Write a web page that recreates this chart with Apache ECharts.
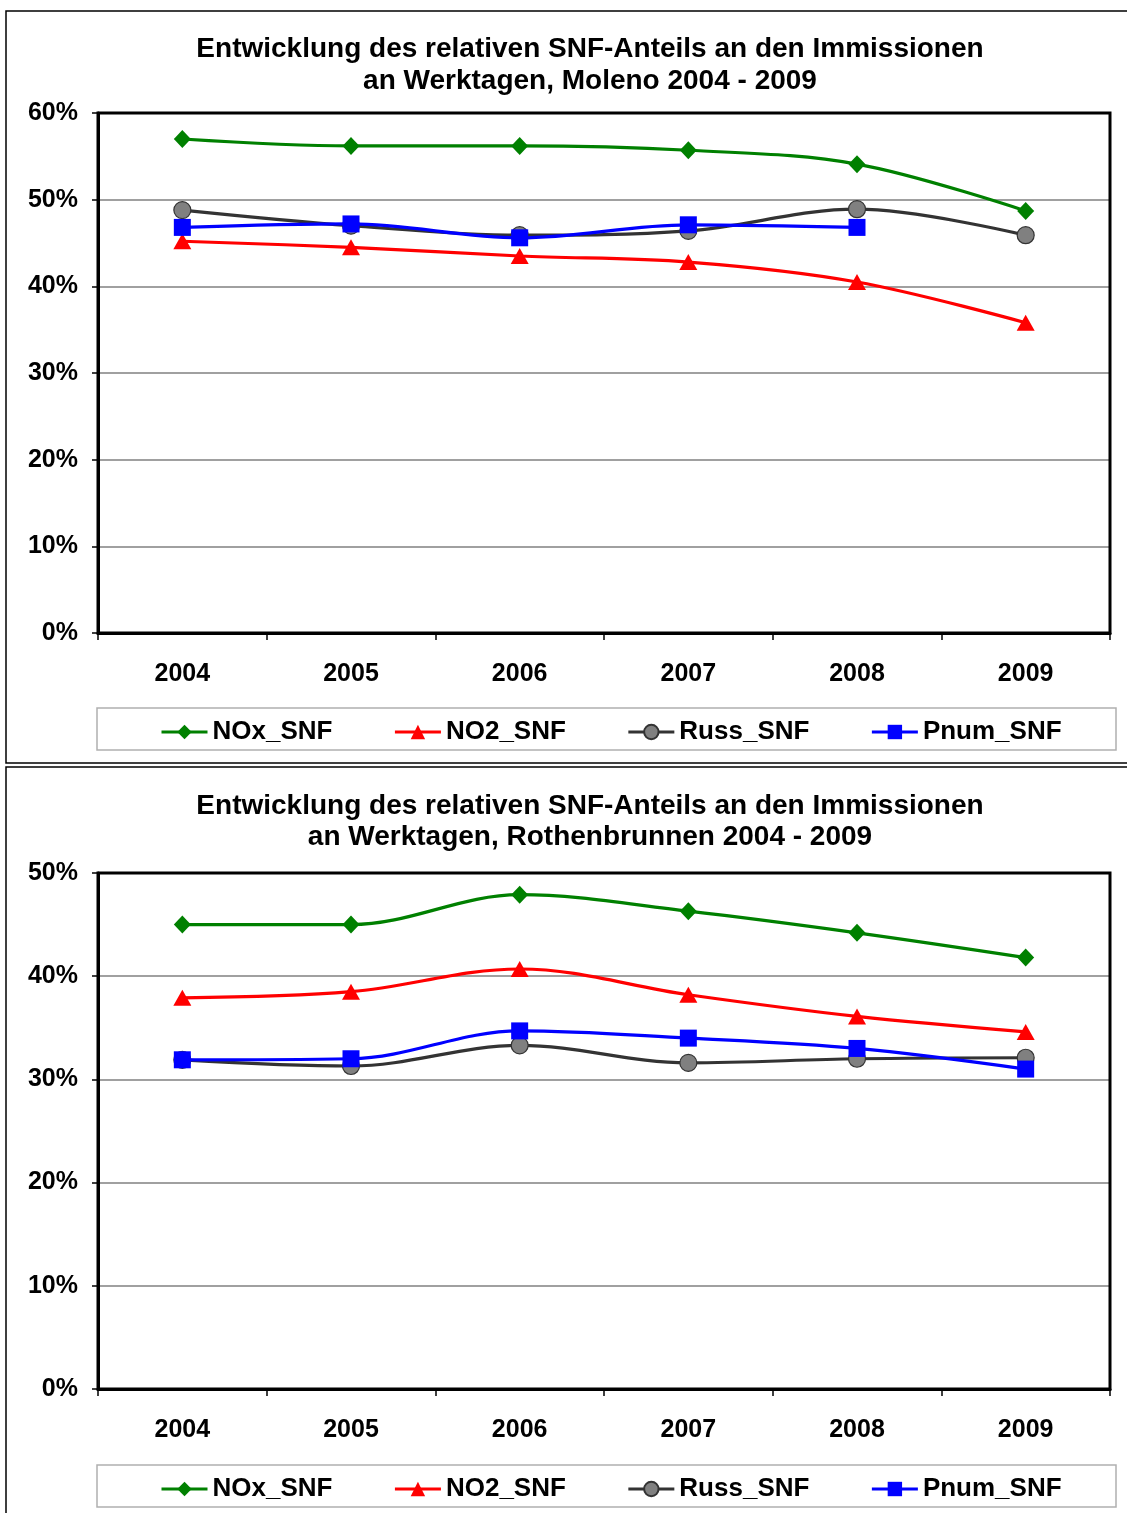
<!DOCTYPE html>
<html>
<head>
<meta charset="utf-8">
<script src="https://cdn.jsdelivr.net/npm/echarts@6/dist/echarts.min.js"></script>
<style>
html,body{margin:0;padding:0;background:#fff;}
#c{width:1127px;height:1513px;}
</style>
</head>
<body>
<div id="c"></div>
<script>
const years = ['2004','2005','2006','2007','2008','2009'];
const seriesNames = ['NOx_SNF','NO2_SNF','Russ_SNF','Pnum_SNF'];
const titleMoleno = 'Entwicklung des relativen SNF-Anteils an den Immissionen\nan Werktagen, Moleno 2004 - 2009';
const titleRothen = 'Entwicklung des relativen SNF-Anteils an den Immissionen\nan Werktagen, Rothenbrunnen 2004 - 2009';
// Moleno (%)
const molenoNOx  = [57.0, 56.2, 56.2, 55.7, 54.1, 48.7];
const molenoNO2  = [45.2, 44.5, 43.5, 42.8, 40.5, 35.8];
const molenoRuss = [48.8, 47.0, 45.9, 46.4, 48.9, 45.9];
const molenoPnum = [46.8, 47.2, 45.6, 47.1, 46.8, null];
const molenoTicks = [0, 10, 20, 30, 40, 50, 60];
// Rothenbrunnen (%)
const rothNOx  = [45.0, 45.0, 47.9, 46.3, 44.2, 41.8];
const rothNO2  = [37.9, 38.5, 40.7, 38.2, 36.1, 34.6];
const rothRuss = [31.9, 31.3, 33.3, 31.6, 32.0, 32.1];
const rothPnum = [31.9, 32.0, 34.7, 34.0, 33.0, 31.0];
const rothTicks = [0, 10, 20, 30, 40, 50];

const FONT = '"Liberation Sans", Arial, sans-serif';
const styles = [
  {line:'#008000', fill:'#008000', border:'#008000', symbol:'diamond', size:[17,18]},
  {line:'#FF0000', fill:'#FF0000', border:'#FF0000', symbol:'triangle', size:[18,16]},
  {line:'#333333', fill:'#808080', border:'#333333', symbol:'circle', size:[17,17]},
  {line:'#0000FF', fill:'#0000FF', border:'#0000FF', symbol:'rect', size:[17,17]}
];

function mkSeries(dataArr, idx){
  return dataArr.map((d,i)=>({
    name: seriesNames[i], type:'line', xAxisIndex: idx, yAxisIndex: idx,
    data: d, smooth: 0.35, connectNulls:false,
    symbol: styles[i].symbol, symbolSize: styles[i].size, showSymbol:true,
    lineStyle:{color:styles[i].line, width:3.2},
    itemStyle:{color:styles[i].fill, borderColor:styles[i].border, borderWidth: i===2?1.2:0, opacity:1},
    z: 10 + i, animation:false
  }));
}

const axisX = (idx)=>({
  type:'category', gridIndex: idx, data: years, boundaryGap:true,
  axisLine:{show:true, lineStyle:{color:'#000', width:3}},
  axisTick:{show:true, inside:false, length:7, lineStyle:{color:'#000', width:1.5}},
  axisLabel:{color:'#000', fontFamily:FONT, fontWeight:'bold', fontSize:25, margin:29},
  splitLine:{show:false}
});
const axisY = (idx, ticks)=>({
  type:'value', gridIndex: idx, min: ticks[0], max: ticks[ticks.length-1], interval: ticks[1]-ticks[0],
  axisLine:{show:true, lineStyle:{color:'#000', width:3}},
  axisTick:{show:true, inside:false, length:6, lineStyle:{color:'#000', width:1.5}},
  axisLabel:{color:'#000', fontFamily:FONT, fontWeight:'bold', fontSize:25, margin:20, formatter:'{value}%'},
  splitLine:{show:true, lineStyle:{color:'#808080', width:1.5}}
});
const legendOf = (top)=>({
  top: top, left: 155, orient:'horizontal', itemGap: 61, itemWidth: 46, itemHeight: 18,
  data: seriesNames,
  lineStyle:{width:3},
  textStyle:{color:'#000', fontFamily:FONT, fontWeight:'bold', fontSize:26}
});

const chart = echarts.init(document.getElementById('c'), null, {renderer:'canvas'});
chart.setOption({
  animation:false,
  backgroundColor:'#fff',
  title:[
    {text: titleMoleno, left: 585, top: 28, textAlign:'center',
     textStyle:{fontFamily:FONT, fontWeight:'bold', fontSize:28, lineHeight:32, color:'#000'}},
    {text: titleRothen, left: 585, top: 786, textAlign:'center',
     textStyle:{fontFamily:FONT, fontWeight:'bold', fontSize:28, lineHeight:31, color:'#000'}}
  ],
  graphic:[
    {type:'rect', shape:{x:6, y:11, width:1130, height:752}, style:{fill:'none', stroke:'#000', lineWidth:1.5}, z:-1},
    {type:'rect', shape:{x:6, y:767, width:1130, height:760}, style:{fill:'none', stroke:'#000', lineWidth:1.5}, z:-1},
    {type:'rect', shape:{x:97, y:708, width:1019, height:42}, style:{fill:'#fff', stroke:'#b0b0b0', lineWidth:1.5}, z:-1},
    {type:'rect', shape:{x:97, y:1465, width:1019, height:42}, style:{fill:'#fff', stroke:'#b0b0b0', lineWidth:1.5}, z:-1},
    {type:'rect', shape:{x:98, y:113, width:1012, height:520}, style:{fill:'none', stroke:'#000', lineWidth:3}, z:50},
    {type:'rect', shape:{x:98, y:873, width:1012, height:516}, style:{fill:'none', stroke:'#000', lineWidth:3}, z:50}
  ],
  legend:[legendOf(714), legendOf(1471)],
  grid:[
    {left:98, right:17, top:113, height:520, containLabel:false},
    {left:98, right:17, top:873, height:516, containLabel:false}
  ],
  xAxis:[axisX(0), axisX(1)],
  yAxis:[axisY(0, molenoTicks), axisY(1, rothTicks)],
  series:[
    ...mkSeries([molenoNOx, molenoNO2, molenoRuss, molenoPnum], 0),
    ...mkSeries([rothNOx, rothNO2, rothRuss, rothPnum], 1)
  ]
});
</script>
</body>
</html>
